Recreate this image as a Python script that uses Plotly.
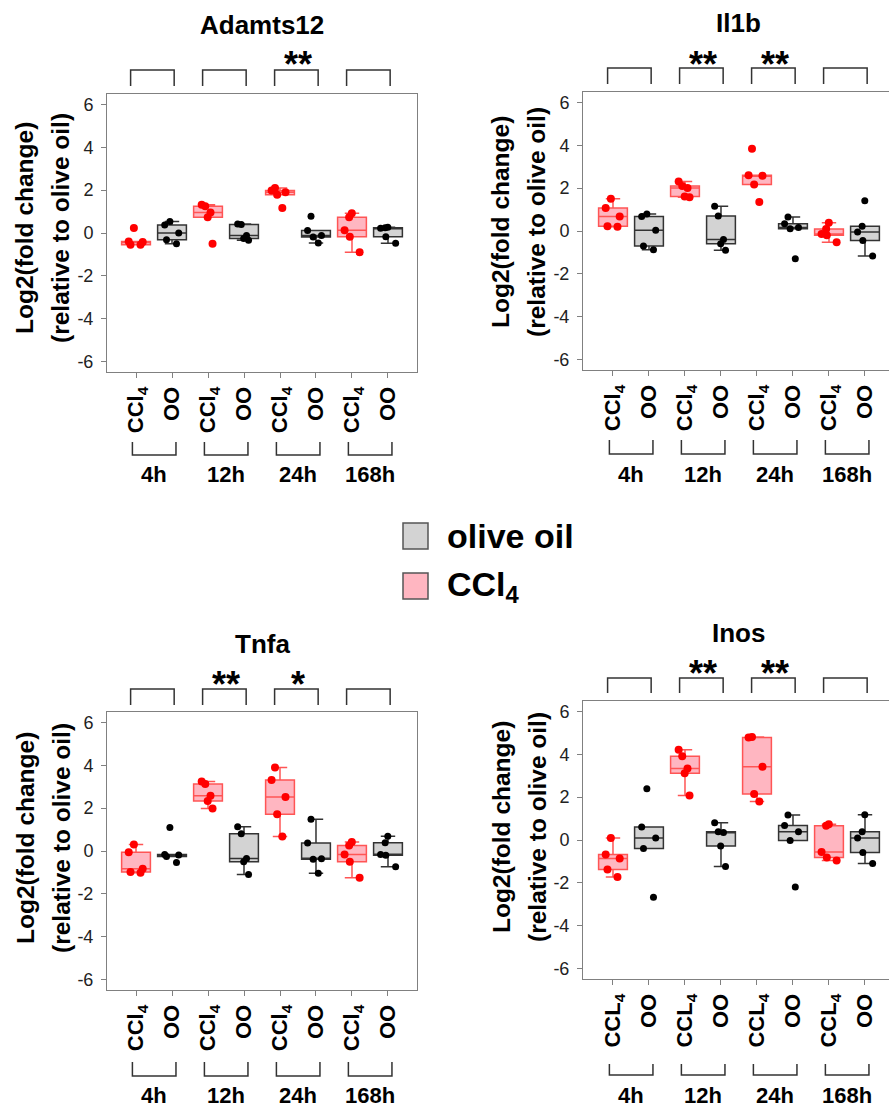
import plotly.graph_objects as go

W, H = 889, 1107

# ---------------- data ----------------
genes = ["Adamts12", "Il1b", "Tnfa", "Inos"]
times = ["4h", "12h", "24h", "168h"]
group_names = ["olive oil", "CCl4"]

adamts12_ccl4 = [[0.23, -0.42, -0.55, -0.55, -0.40],
                 [1.32, 1.25, 0.95, 0.73, -0.50],
                 [2.10, 1.98, 1.78, 1.90, 1.16],
                 [0.92, 0.74, 0.13, -0.18, -0.90]]
adamts12_oo = [[0.54, 0.37, 0.00, -0.31, -0.50],
               [0.42, 0.40, -0.12, -0.34, -0.26],
               [0.78, 0.12, -0.12, -0.19, -0.47],
               [0.27, 0.24, 0.22, -0.17, -0.48]]

il1b_ccl4 = [[1.50, 1.07, 0.68, 0.22, 0.20],
             [2.31, 2.10, 2.00, 1.61, 1.57],
             [3.84, 2.60, 2.58, 2.17, 1.35],
             [0.38, 0.09, -0.14, -0.20, -0.53]]
il1b_oo = [[0.79, 0.68, 0.03, -0.70, -0.87],
           [1.15, 0.70, -0.40, -0.59, -0.90],
           [0.65, 0.34, 0.16, 0.11, -1.29],
           [1.41, 0.22, -0.05, -0.44, -1.16]]

tnfa_ccl4 = [[0.30, -0.06, -0.83, -0.98, -1.01],
             [3.24, 3.12, 2.57, 2.33, 1.98],
             [3.89, 3.31, 2.52, 1.71, 0.68],
             [0.42, 0.26, -0.16, -0.50, -1.25]]
tnfa_oo = [[1.10, -0.16, -0.19, -0.26, -0.54],
           [1.13, 0.81, -0.35, -0.50, -1.09],
           [1.48, 0.37, -0.36, -0.39, -1.04],
           [0.69, 0.39, -0.16, -0.20, -0.73]]

inos_ccl4 = [[0.09, -0.68, -0.86, -1.38, -1.73],
             [4.21, 3.90, 3.33, 3.11, 2.08],
             [4.80, 4.78, 3.42, 2.14, 1.79],
             [0.73, 0.67, -0.56, -0.81, -0.95]]
inos_oo = [[2.39, 0.61, 0.09, -0.40, -2.67],
           [0.81, 0.39, 0.35, -0.28, -1.24],
           [1.17, 0.68, 0.39, -0.02, -2.19],
           [1.18, 0.39, 0.09, -0.58, -1.10]]

sig_adamts12 = ["", "", "**", ""]
sig_il1b = ["", "**", "**", ""]
sig_tnfa = ["", "**", "*", ""]
sig_inos = ["", "**", "**", ""]

ccl_tick = ["CCl<sub>4</sub>", "CCl<sub>4</sub>", "CCl<sub>4</sub>", "CCL<sub>4</sub>"]
oo_tick = "OO"
y_ticks = [-6, -4, -2, 0, 2, 4, 6]
y_tick_text = ["-6", "-4", "-2", "0", "2", "4", "6"]

gene_data = {
    "Adamts12": (adamts12_ccl4, adamts12_oo, sig_adamts12),
    "Il1b": (il1b_ccl4, il1b_oo, sig_il1b),
    "Tnfa": (tnfa_ccl4, tnfa_oo, sig_tnfa),
    "Inos": (inos_ccl4, inos_oo, sig_inos),
}

# ---------------- layout (pixels) ----------------
panels = [
    dict(xd=(107, 417), yd=(94, 372), xr=(0.194, 8.806), title_y=25, star_y=58,
         br=(70, 86), lbr=(442, 455), time_y=475, ytl=(24, 60), ytc=228, mirror=True),
    dict(xd=(583, 889), yd=(92, 370), xr=(0.167, 8.667), title_y=23, star_y=57,
         br=(68, 84), lbr=(440, 454), time_y=475, ytl=(501, 537), ytc=222, mirror=False),
    dict(xd=(107, 417), yd=(712, 990), xr=(0.194, 8.806), title_y=644, star_y=677,
         br=(689, 705), lbr=(1062, 1076), time_y=1095, ytl=(25, 61), ytc=838, mirror=True),
    dict(xd=(583, 889), yd=(701, 979), xr=(0.167, 8.667), title_y=633, star_y=667,
         br=(678, 693), lbr=(1064, 1075), time_y=1095, ytl=(501, 537), ytc=827, mirror=False),
]

FONT = "Liberation Sans, Arial, Helvetica, sans-serif"
PINK = "#FFB6C1"
GRAY = "#D3D3D3"
FRAME = "#808080"


def py(px):
    return 1 - px / H


def pxx(px):
    return px / W


fig = go.Figure()
shapes = []
annotations = []

for k, gene in enumerate(genes):
    p = panels[k]
    ccl, oo, sig = gene_data[gene]
    sfx = "" if k == 0 else str(k + 1)
    xa, ya = "x" + sfx, "y" + sfx

    for vals, fill, lcol, mcol, msize, offs in [
        (ccl, PINK, "#FF5555", "#FF0000", 8, 1),
        (oo, GRAY, "#333333", "#000000", 7, 2),
    ]:
        xs, ys = [], []
        for t, v in enumerate(vals):
            xs += [2 * t + offs] * len(v)
            ys += v
        fig.add_trace(go.Box(
            x=xs, y=ys, xaxis=xa, yaxis=ya,
            boxpoints="all", jitter=0.6, pointpos=0,
            fillcolor=fill, line=dict(color=lcol, width=1.5),
            marker=dict(color=mcol, size=msize),
            width=0.8, whiskerwidth=0.5, quartilemethod="inclusive",
            showlegend=False, hoverinfo="skip",
        ))

    ticktext = []
    for t in range(4):
        ticktext += ["<b>" + ccl_tick[k] + "</b>", "<b>" + oo_tick + "</b>"]

    fig.layout["xaxis" + sfx] = dict(
        domain=[pxx(p["xd"][0]), pxx(p["xd"][1])], range=list(p["xr"]), anchor=ya,
        showline=True, linecolor=FRAME, linewidth=1, mirror=True,
        ticks="outside", ticklen=5, tickcolor=FRAME,
        tickvals=list(range(1, 9)), ticktext=ticktext, tickangle=-90,
        tickfont=dict(family=FONT, size=22, color="black"),
        showgrid=False, zeroline=False, fixedrange=True,
    )
    fig.layout["yaxis" + sfx] = dict(
        domain=[py(p["yd"][1]), py(p["yd"][0])], range=[-6.48, 6.48], anchor=xa,
        showline=True, linecolor=FRAME, linewidth=1, mirror=p["mirror"],
        ticks="outside", ticklen=5, tickcolor=FRAME,
        tickvals=y_ticks, ticktext=y_tick_text,
        tickfont=dict(family=FONT, size=18, color="#222222"),
        ticklabelstandoff=4,
        showgrid=False, zeroline=False, fixedrange=True,
    )

    # title
    annotations.append(dict(text="<b>" + gene + "</b>", xref=xa, x=4.5, yref="paper",
                            y=py(p["title_y"]), xanchor="center", yanchor="middle",
                            showarrow=False, font=dict(family=FONT, size=26, color="black")))
    # y-axis title (two lines)
    for line, xc in zip(["<b>Log2(fold change)</b>", "<b>(relative to olive oil)</b>"], p["ytl"]):
        annotations.append(dict(text=line, xref="paper", x=pxx(xc), yref="paper", y=py(p["ytc"]),
                                xanchor="center", yanchor="middle", textangle=-90,
                                showarrow=False, font=dict(family=FONT, size=24.5, color="black")))

    for t in range(4):
        a = 2 * t + 1
        b = a + 1
        # top bracket
        x0, x1 = a - 0.15, b + 0.06
        shapes.append(dict(type="path", xref=xa, yref="paper",
                           path=f"M {x0} {py(p['br'][1])} L {x0} {py(p['br'][0])} L {x1} {py(p['br'][0])} L {x1} {py(p['br'][1])}",
                           line=dict(color="#333333", width=1.5)))
        # bottom bracket
        x0, x1 = a - 0.1, b + 0.11
        shapes.append(dict(type="path", xref=xa, yref="paper",
                           path=f"M {x0} {py(p['lbr'][0])} L {x0} {py(p['lbr'][1])} L {x1} {py(p['lbr'][1])} L {x1} {py(p['lbr'][0])}",
                           line=dict(color="#333333", width=1.5)))
        # time label
        annotations.append(dict(text="<b>" + times[t] + "</b>", xref=xa, x=a + 0.5, yref="paper",
                                y=py(p["time_y"]), xanchor="center", yanchor="middle",
                                showarrow=False, font=dict(family=FONT, size=22, color="black")))
        # significance stars
        if sig[t]:
            annotations.append(dict(text="<b>" + sig[t] + "</b>", xref=xa, x=a + 0.5, yref="paper",
                                    y=py(p["star_y"] + 7), xanchor="center", yanchor="middle",
                                    showarrow=False, font=dict(family=FONT, size=36, color="black")))

# ---------------- legend ----------------
legend_items = [(group_names[0], GRAY, 523, 549), ("CCl<sub>4</sub>", PINK, 573, 599)]
for label, fill, y0, y1 in legend_items:
    shapes.append(dict(type="rect", xref="paper", yref="paper",
                       x0=pxx(403), x1=pxx(428), y0=py(y1), y1=py(y0),
                       fillcolor=fill, line=dict(color="#555555", width=1.5)))
    annotations.append(dict(text="<b>" + label + "</b>", xref="paper", yref="paper",
                            x=pxx(445), y=py((y0 + y1) / 2), xanchor="left", yanchor="middle",
                            showarrow=False, font=dict(family=FONT, size=34, color="black")))

fig.update_layout(
    width=W, height=H, margin=dict(l=0, r=0, t=0, b=0),
    paper_bgcolor="white", plot_bgcolor="white",
    shapes=shapes, annotations=annotations, showlegend=False,
)

fig.write_html("out.html", config={"displayModeBar": False},
               post_script="document.body.style.margin='0px';document.body.style.padding='0px';")
